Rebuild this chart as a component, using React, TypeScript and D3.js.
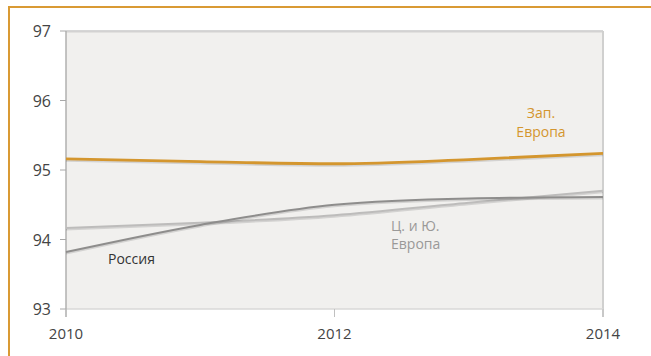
import React from "react";
import * as d3 from "d3";

const years = [2010, 2011, 2012, 2013, 2014];
const westEurope = [95.16, 95.12, 95.09, 95.15, 95.24];
const russia = [93.82, 94.21, 94.5, 94.59, 94.61];
const centralSouthEurope = [94.165, 94.24, 94.35, 94.53, 94.7];
const yTicks = [93, 94, 95, 96, 97];
const xTicks = [2010, 2012, 2014];

const W = 651;
const H = 356;
const M = { left: 66, right: 603, top: 31, bottom: 309 };
const FONT = "'Open Sans', 'DejaVu Sans', sans-serif";

export default function App() {
  const x = d3.scaleLinear().domain([2010, 2014]).range([M.left, M.right]);
  const y = d3.scaleLinear().domain([93, 97]).range([M.bottom, M.top]);
  const line = d3
    .line<number>()
    .x((_, i) => x(years[i]))
    .y((d) => y(d))
    .curve(d3.curveMonotoneX);

  const series = [
    { data: centralSouthEurope, color: "#bdbcbb", w: 2 },
    { data: russia, color: "#8e8d8c", w: 2 },
    { data: westEurope, color: "#d4962e", w: 2.8 },
  ];

  return (
    <svg
      width={W}
      height={H}
      style={{ position: "absolute", left: 0, top: 0, display: "block" }}
    >
      <rect x={0} y={0} width={W} height={H} fill="#ffffff" />
      {/* orange frame */}
      <line x1={9} y1={7} x2={W} y2={7} stroke="#d99a34" strokeWidth={2} />
      <line x1={9} y1={6} x2={9} y2={H} stroke="#d99a34" strokeWidth={2} />

      {/* plot background */}
      <rect
        x={M.left}
        y={M.top}
        width={M.right - M.left}
        height={M.bottom - M.top}
        fill="#f1f0ee"
      />
      <line x1={M.left} y1={M.top} x2={M.right} y2={M.top} stroke="#c9c9c8" strokeWidth={1.5} />
      <line x1={M.left} y1={M.top + 1.5} x2={M.right} y2={M.top + 1.5} stroke="#e2e1df" strokeWidth={1} />
      <line x1={M.right} y1={M.top} x2={M.right} y2={M.bottom + 8} stroke="#d0d0cf" strokeWidth={2} />
      <line x1={M.left} y1={M.bottom} x2={M.right} y2={M.bottom} stroke="#d8d8d7" strokeWidth={1.5} />
      <line x1={M.left} y1={M.top} x2={M.left} y2={M.bottom + 8} stroke="#b0b0af" strokeWidth={1.5} />

      {yTicks.map((t) => (
        <g key={t}>
          <line x1={M.left - 6} x2={M.left} y1={y(t)} y2={y(t)} stroke="#a8a8a8" strokeWidth={1} />
          <text
            x={51}
            y={y(t) + 6}
            textAnchor="end"
            fontFamily={FONT}
            fontSize={16}
            fill="#444"
          >
            {t}
          </text>
        </g>
      ))}

      {xTicks.map((t) => (
        <g key={t}>
          <line x1={x(t)} x2={x(t)} y1={M.bottom} y2={M.bottom + 8} stroke="#c0c0c0" strokeWidth={1} />
          <text
            x={x(t)}
            y={339}
            textAnchor="middle"
            fontFamily={FONT}
            fontSize={15}
            fill="#444"
          >
            {t}
          </text>
        </g>
      ))}

      {series.map((s, i) => (
        <g key={i}>
          <path d={line(s.data) || ""} fill="none" stroke="#000" strokeOpacity={0.12} strokeWidth={s.w} transform="translate(0,1.5)" />
          <path d={line(s.data) || ""} fill="none" stroke={s.color} strokeWidth={s.w} />
        </g>
      ))}

      <text fontFamily={FONT} fontSize={14} fill="#d4962e" textAnchor="middle">
        <tspan x={541} y={118}>Зап.</tspan>
        <tspan x={541} y={137}>Европа</tspan>
      </text>
      <text fontFamily={FONT} fontSize={14} fill="#9a9998">
        <tspan x={391} y={231}>Ц. и Ю.</tspan>
        <tspan x={391} y={249}>Европа</tspan>
      </text>
      <text fontFamily={FONT} fontSize={14} fill="#333" x={108} y={264}>
        Россия
      </text>
    </svg>
  );
}
